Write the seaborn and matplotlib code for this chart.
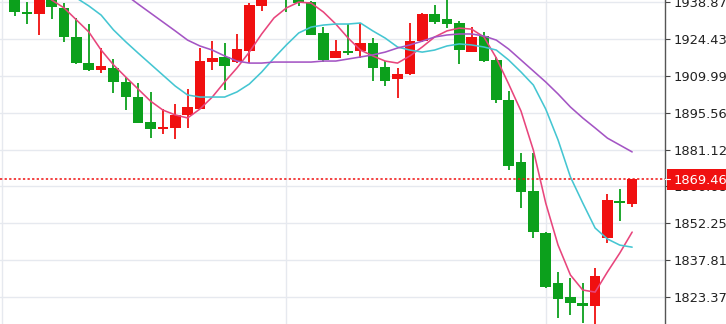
import numpy as np
import pandas as pd
import matplotlib
matplotlib.use("Agg")
import matplotlib.pyplot as plt
import matplotlib.transforms as mtrans
from matplotlib.patches import Rectangle
import seaborn as sns

# ---- data ----
opens = [1940.9, 1935.1, 1934.1, 1941.3, 1936.5, 1925.3, 1914.9, 1912.4, 1913.0, 1907.5,
         1901.8, 1892.0, 1889.3, 1889.5, 1894.6, 1897.1, 1915.3, 1917.3, 1915.3, 1919.9,
         1937.5, 1944.0, 1943.0, 1939.8, 1939.0, 1926.7, 1917.1, 1919.9, 1919.9, 1923.0,
         1913.4, 1908.7, 1910.7, 1923.8, 1934.1, 1932.2, 1930.8, 1919.5, 1925.6, 1916.2,
         1900.5, 1876.1, 1865.0, 1848.3, 1828.7, 1823.3, 1821.1, 1819.9, 1846.4, 1861.1,
         1859.7]
highs = [1942.1, 1939.0, 1941.7, 1942.1, 1938.4, 1932.5, 1930.3, 1921.0, 1916.5, 1909.7,
         1907.3, 1903.6, 1896.9, 1898.9, 1904.7, 1921.0, 1923.8, 1922.8, 1926.4, 1938.7,
         1942.1, 1946.0, 1945.0, 1941.0, 1939.5, 1929.3, 1924.0, 1930.3, 1930.8, 1924.7,
         1915.9, 1913.0, 1930.8, 1934.5, 1937.8, 1940.9, 1931.6, 1929.3, 1927.3, 1917.3,
         1904.1, 1879.7, 1879.9, 1848.7, 1833.3, 1830.7, 1829.0, 1834.6, 1863.6, 1865.6,
         1869.5]
lows = [1933.6, 1930.2, 1926.0, 1932.2, 1923.1, 1914.6, 1912.0, 1911.2, 1903.2, 1896.6,
        1891.4, 1885.5, 1887.1, 1885.3, 1889.7, 1896.9, 1912.3, 1904.5, 1915.1, 1914.9,
        1935.5, 1940.2, 1935.1, 1937.4, 1925.9, 1915.5, 1916.9, 1918.2, 1916.9, 1908.0,
        1906.0, 1901.4, 1910.3, 1923.4, 1930.3, 1928.6, 1914.5, 1919.3, 1915.6, 1899.5,
        1873.1, 1858.1, 1846.6, 1827.0, 1815.3, 1816.3, 1813.1, 1808.5, 1844.4, 1853.1,
        1858.7]
closes = [1934.9, 1934.1, 1940.5, 1936.9, 1925.1, 1914.9, 1912.2, 1914.0, 1907.5, 1901.8,
          1891.7, 1889.2, 1890.1, 1894.7, 1897.7, 1915.8, 1916.9, 1913.9, 1920.4, 1937.8,
          1940.9, 1941.0, 1940.0, 1938.7, 1926.0, 1916.2, 1919.9, 1919.1, 1922.8, 1913.2,
          1908.1, 1910.7, 1923.8, 1934.1, 1931.2, 1930.3, 1920.1, 1925.3, 1915.8, 1900.5,
          1874.7, 1864.6, 1848.7, 1827.2, 1822.6, 1820.9, 1819.9, 1831.6, 1861.4, 1860.1,
          1869.46]
ma_short = [1951.5, 1947.5, 1943.6, 1939.7, 1936.6, 1931.9, 1927.2, 1920.1, 1914.3, 1909.5,
            1904.8, 1900.1, 1896.6, 1894.7, 1893.5, 1897.0, 1901.7, 1907.6, 1913.1, 1919.3,
            1926.4, 1932.7, 1936.6, 1938.9, 1938.5, 1935.0, 1930.3, 1924.8, 1920.1, 1917.8,
            1915.8, 1915.0, 1917.8, 1921.3, 1925.2, 1927.6, 1928.7, 1928.3, 1925.2, 1917.0,
            1906.8, 1896.2, 1880.9, 1860.2, 1843.7, 1832.0, 1826.1, 1825.3, 1833.2, 1840.6,
            1848.8]
ma_mid = [1955.4, 1952.2, 1949.5, 1946.4, 1943.2, 1940.5, 1937.4, 1933.8, 1928.0, 1923.3,
          1918.9, 1914.6, 1910.3, 1906.0, 1902.5, 1901.7, 1901.7, 1901.7, 1903.7, 1906.8,
          1911.5, 1917.0, 1922.1, 1926.8, 1929.1, 1929.9, 1930.3, 1930.3, 1930.7, 1927.6,
          1924.8, 1921.3, 1920.1, 1919.3, 1920.1, 1921.7, 1922.5, 1922.1, 1921.3, 1920.1,
          1916.2, 1911.5, 1906.4, 1897.0, 1884.9, 1870.4, 1860.2, 1850.4, 1846.1, 1843.7,
          1842.9]
ma_long = [1973.0, 1969.1, 1965.2, 1961.3, 1957.3, 1953.4, 1949.5, 1946.8, 1944.0, 1941.7,
           1938.1, 1934.6, 1931.1, 1927.6, 1924.0, 1921.7, 1920.1, 1917.8, 1915.8, 1915.0,
           1915.0, 1915.4, 1915.4, 1915.4, 1915.4, 1915.8, 1915.8, 1916.6, 1917.4, 1918.2,
           1919.3, 1920.9, 1922.1, 1923.6, 1925.2, 1926.0, 1926.4, 1926.4, 1925.6, 1924.0,
           1920.5, 1916.2, 1911.9, 1907.6, 1902.9, 1897.8, 1893.5, 1889.6, 1885.6, 1882.9,
           1880.2]
ytick_values = [1823.37, 1837.81, 1852.25, 1866.68, 1881.12, 1895.56, 1909.99, 1924.43, 1938.87]
day_breaks = [-1, 22, 43]
last_price = 1869.46

# ---- styling ----
UP = "#f01010"
DOWN = "#0ca01c"
GRID = "#e6e9ef"

sns.set_style("white")
plt.rcParams["font.family"] = ["DejaVu Sans"]

fig = plt.figure(figsize=(7.26, 3.24), dpi=100)
ax = fig.add_axes([0, 0, 665 / 726, 1])

idx = np.arange(len(opens))
o = np.array(opens); c = np.array(closes)
h = np.array(highs); l = np.array(lows)
cols = [UP if cc >= oo else DOWN for oo, cc in zip(o, c)]

# grid
for yv in ytick_values:
    ax.axhline(yv, color=GRID, lw=1.0, zorder=0)
for xv in day_breaks:
    ax.axvline(xv, color=GRID, lw=1.0, zorder=0)

# candles
ax.vlines(idx, l, h, colors=cols, lw=1.3, zorder=2)
bottoms = np.minimum(o, c)
heights = np.maximum(np.abs(c - o), 0.6)
ax.bar(idx, heights, bottom=bottoms, width=0.86, color=cols, lw=0, zorder=3)

# moving averages via seaborn
ma_df = pd.DataFrame({
    "idx": np.concatenate([idx, idx, idx]),
    "value": np.concatenate([ma_short, ma_mid, ma_long]),
    "series": ["short"] * len(idx) + ["mid"] * len(idx) + ["long"] * len(idx),
})
sns.lineplot(data=ma_df, x="idx", y="value", hue="series", sort=False,
             palette={"short": "#e8457c", "mid": "#45c6d2", "long": "#a455c4"},
             legend=False, linewidth=1.15, ax=ax, zorder=4)

# last price line
ax.axhline(last_price, color=UP, lw=1.1, ls=(0, (1.5, 1.5)), zorder=5)

ax.set_xlim(-1.19, 52.66)
ax.set_ylim(1812.80, 1939.71)
ax.set_xlabel(""); ax.set_ylabel("")
ax.set_xticks([])
ax.yaxis.tick_right()
ax.set_yticks(ytick_values)
ax.set_yticklabels([f"{v:.2f}" for v in ytick_values])
ax.tick_params(axis="y", direction="out", length=3.5, width=0.8, pad=2.5,
               labelsize=9.4, colors="#444444", labelcolor="#222222", right=True)
for s in ["top", "left", "bottom"]:
    ax.spines[s].set_visible(False)
ax.spines["right"].set_color("#555555")
ax.spines["right"].set_linewidth(1.0)

# price label box on the axis
trans = mtrans.blended_transform_factory(ax.transAxes, ax.transData)
ax.add_patch(Rectangle((1.0 + 1.5 / 665, last_price - 4.1), 70 / 665, 8.2,
                       transform=trans, facecolor=UP, edgecolor="none",
                       clip_on=False, zorder=10))
ax.plot([1.0, 1.0 + 4.9 / 665], [last_price, last_price], transform=trans,
        color="white", lw=0.8, clip_on=False, zorder=11)
ax.annotate(f"{last_price:.2f}", xy=(1.0, last_price), xycoords=trans,
            xytext=(6.0, 0), textcoords="offset points",
            ha="left", va="center_baseline", fontsize=9.4, color="white",
            zorder=12, annotation_clip=False)

fig.savefig("out.png", dpi=100)
